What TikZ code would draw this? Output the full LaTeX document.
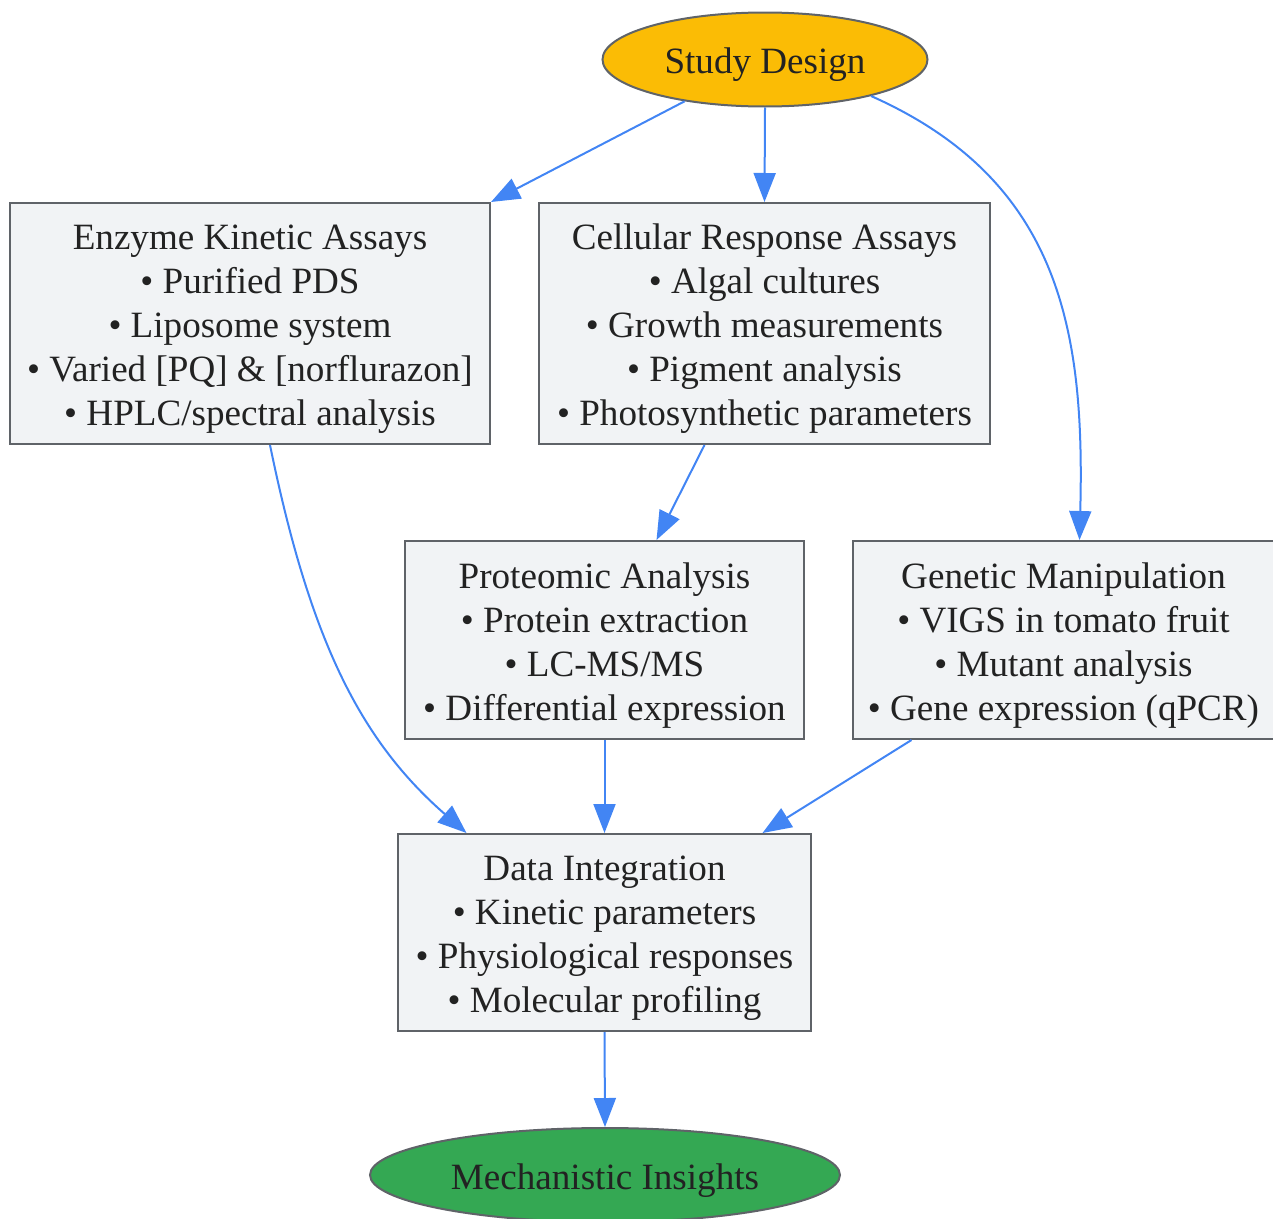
\documentclass[tikz,border=0pt]{standalone}
\usepackage{fontspec}
\setmainfont{Liberation Serif}
\usetikzlibrary{shapes.geometric,arrows.meta}
\definecolor{boxfill}{HTML}{F1F3F5}
\definecolor{boxline}{HTML}{5F6368}
\definecolor{edgeblue}{HTML}{4285F4}
\definecolor{sdfill}{HTML}{FBBC05}
\definecolor{mifill}{HTML}{34A853}
\definecolor{txt}{HTML}{222222}
\newcommand{\tstr}{\rule{0pt}{37pt}}
\newcommand{\bstr}{\rule[-9pt]{0pt}{9pt}}
\begin{document}
\begin{tikzpicture}[x=1pt,y=-1pt,
  every node/.style={font=\fontsize{37.1}{44}\selectfont, text=txt, align=center, inner sep=0pt},
  infobox/.style={draw=boxline, fill=boxfill, line width=2pt, rectangle},
  oval/.style={draw=boxline, line width=2pt, ellipse},
  flow/.style={draw=edgeblue, line width=2pt, -{Triangle[length=29pt,width=22pt]}}]
\useasboundingbox (0,0) rectangle (1273,1218);
\node[oval, fill=sdfill, minimum width=325pt, minimum height=94pt] (sd) at (765,59.5) {\tstr Study Design\bstr};
\node[infobox, minimum width=480pt, minimum height=241pt] (enz) at (250,323.5)
  {\tstr Enzyme Kinetic Assays\\ • Purified PDS\\ • Liposome system\\ • Varied [PQ] \& [norflurazon]\\ • HPLC/spectral analysis\bstr};
\node[infobox, minimum width=451pt, minimum height=241pt] (cel) at (764.5,323.5)
  {\tstr Cellular Response Assays\\ • Algal cultures\\ • Growth measurements\\ • Pigment analysis\\ • Photosynthetic parameters\bstr};
\node[infobox, minimum width=399pt, minimum height=198pt] (pro) at (604.5,640)
  {\tstr Proteomic Analysis\\ • Protein extraction\\ • LC-MS/MS\\ • Differential expression\bstr};
\node[infobox, minimum width=421pt, minimum height=198pt] (gen) at (1063.5,640)
  {\tstr Genetic Manipulation\\ • VIGS in tomato fruit\\ • Mutant analysis\\ • Gene expression (qPCR)\bstr};
\node[infobox, minimum width=413pt, minimum height=197pt] (dat) at (604.5,932.5)
  {\tstr Data Integration\\ • Kinetic parameters\\ • Physiological responses\\ • Molecular profiling\bstr};
\node[oval, fill=mifill, minimum width=470pt, minimum height=94pt] (mi) at (605,1175) {\tstr Mechanistic Insights\bstr};

\draw[flow] (sd) -- (enz.north east);
\draw[flow] (sd.south) -- (cel.north);
\draw[flow] (sd.-19) .. controls (1060,180) and (1085,330) .. ([xshift=16pt]gen.north);
\draw[flow] ([xshift=-60pt]cel.south) -- ([xshift=52pt]pro.north);
\draw[flow] ([xshift=20pt]enz.south) .. controls (310,640) and (360,740) .. ([xshift=-138pt]dat.north);
\draw[flow] (pro.south) -- (dat.north);
\draw[flow] ([xshift=-152pt]gen.south) -- ([xshift=158pt]dat.north);
\draw[flow] (dat.south) -- (mi.north);
\end{tikzpicture}
\end{document}
